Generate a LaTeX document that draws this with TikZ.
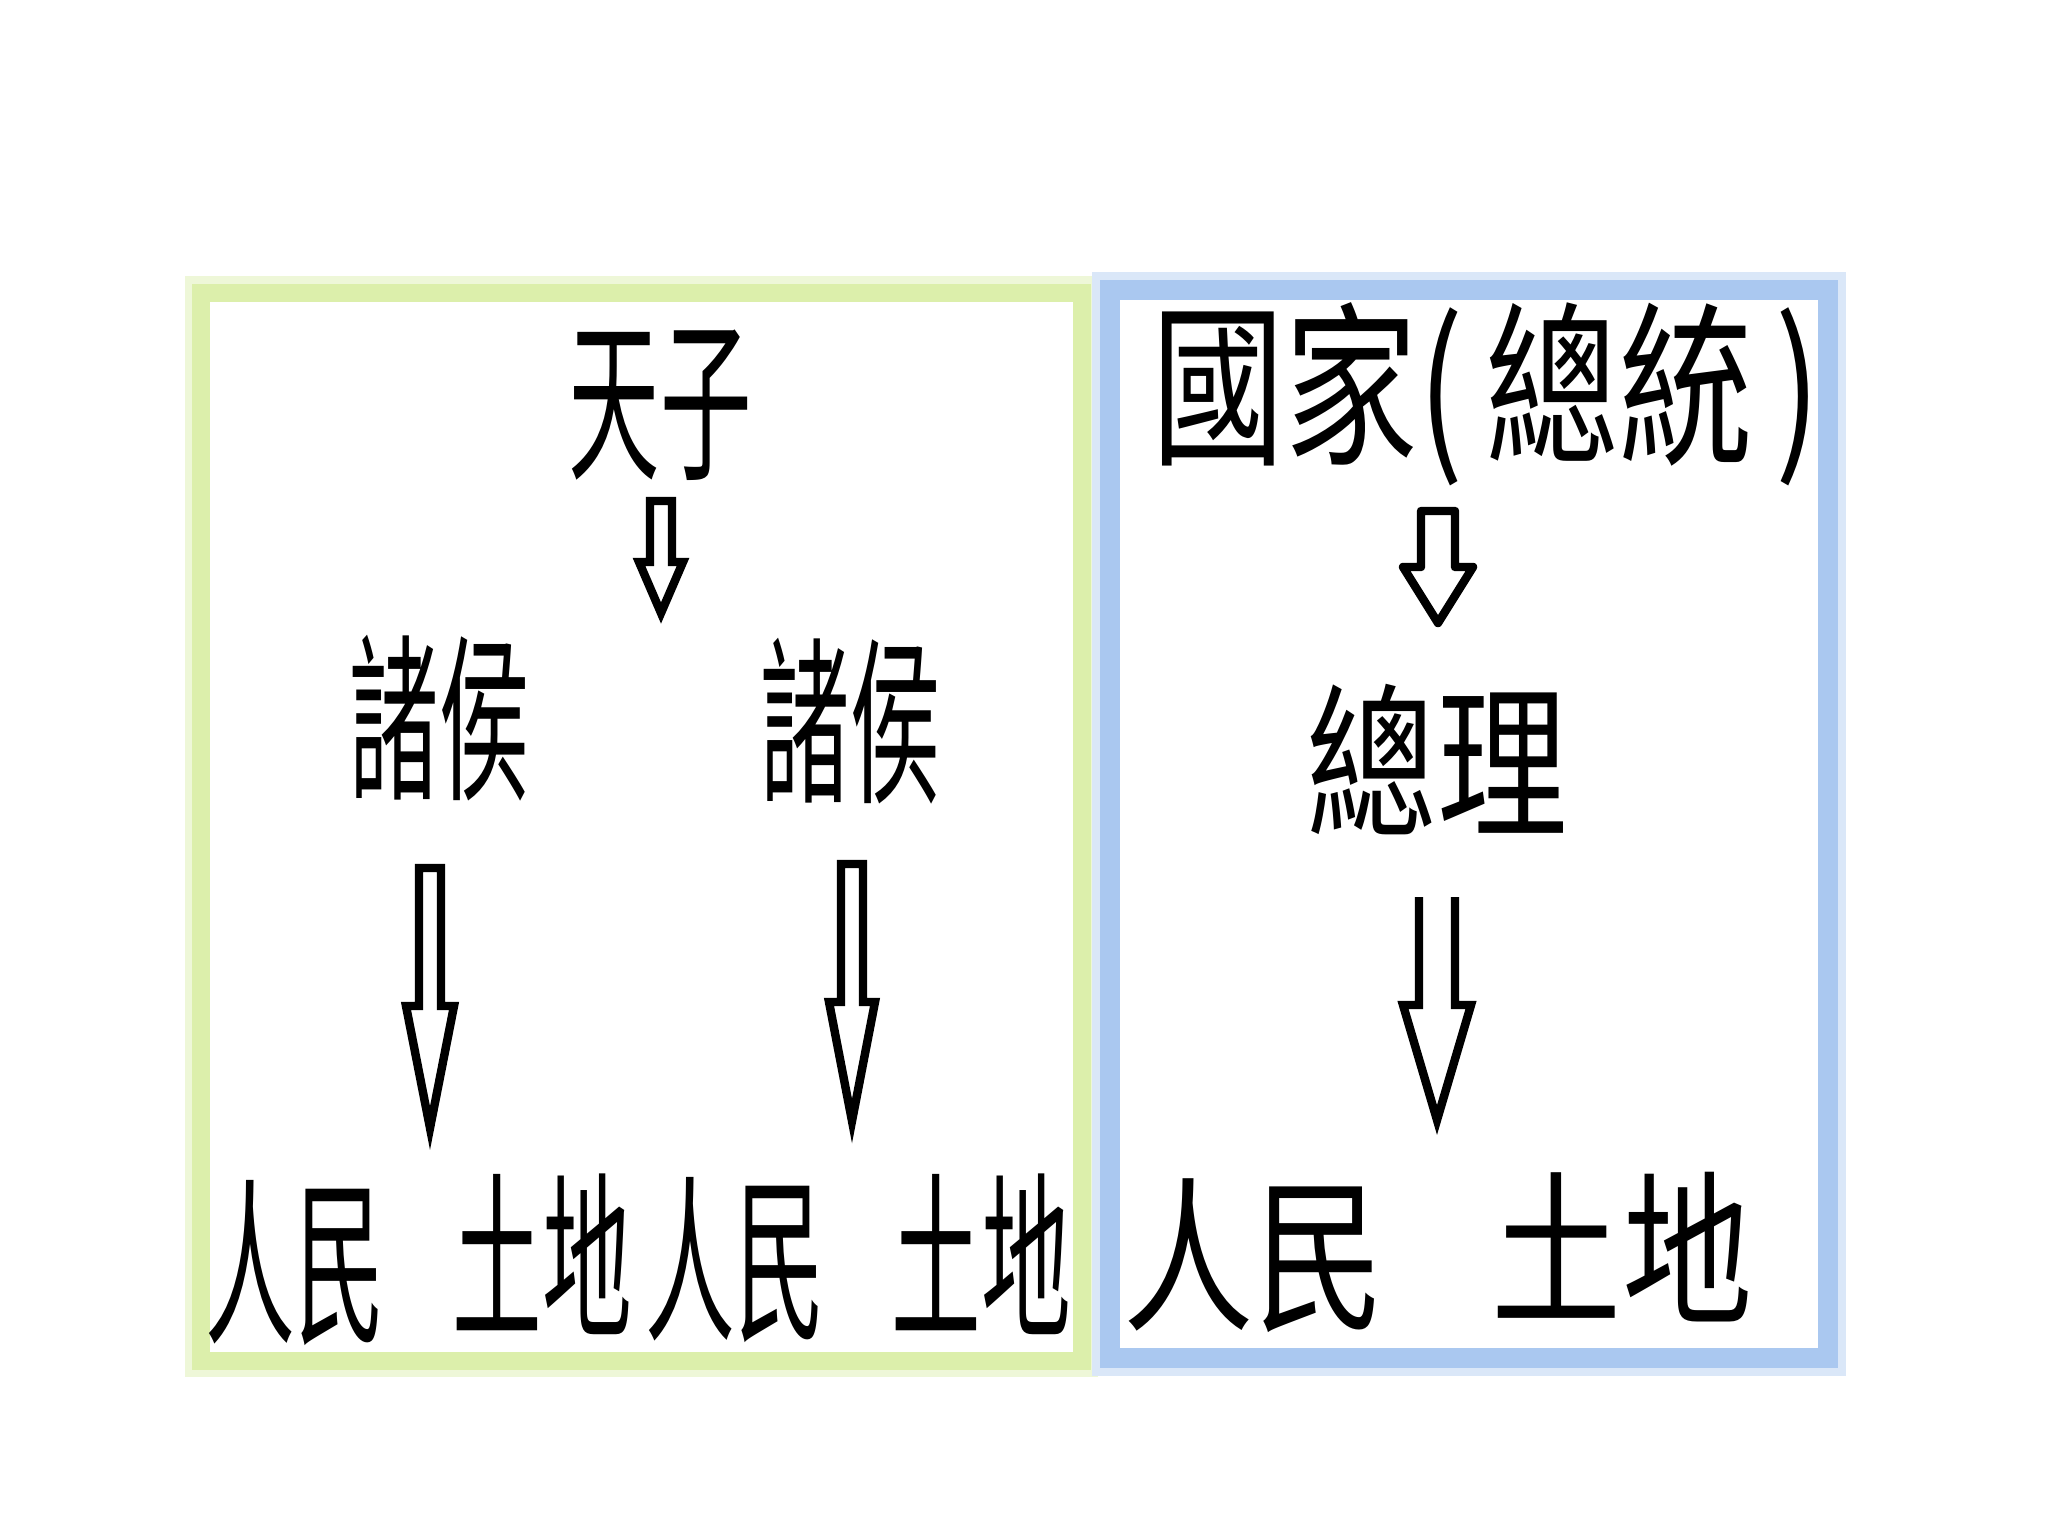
\documentclass[tikz,border=0pt]{standalone}
\usepackage{fontspec}
\usepackage{graphicx}
\newfontfamily\cjk{Noto Sans CJK TC}
\definecolor{gband}{HTML}{DCEFAB}
\definecolor{gglow}{HTML}{EEF7D8}
\definecolor{bband}{HTML}{AAC8F0}
\definecolor{bglow}{HTML}{DAE7F8}
\tikzset{
  lbl/.style={inner sep=0pt, font=\cjk},
  arrowline/.style={draw=black, line width=2.4pt, fill=white, line join=miter},
}
\newcommand{\blkarrow}[7][]{%
  \draw[arrowline,#1] ({#2-#6},#3) -- ({#2-#6},#4) -- ({#2-#7},#4) -- (#2,#5) -- ({#2+#7},#4) -- ({#2+#6},#4) -- ({#2+#6},#3) -- cycle;}
\newcommand{\blkarrowopen}[7][]{%
  \draw[arrowline,#1] ({#2-#6},#3) -- ({#2-#6},#4) -- ({#2-#7},#4) -- (#2,#5) -- ({#2+#7},#4) -- ({#2+#6},#4) -- ({#2+#6},#3);}
\newcommand{\gtxt}[2]{\fontsize{50pt}{60pt}\selectfont\scalebox{#1}[1]{#2}}
\begin{document}
\begin{tikzpicture}[x=0.01cm,y=-0.01cm]
\useasboundingbox[fill=white] (0,0) rectangle (2048,1536);
% green box
\draw[gglow, line width=8*0.2845pt] (189,280) rectangle (1094,1373);
\draw[gband, line width=18*0.2845pt] (201,293) rectangle (1082,1361);
% blue box
\draw[bglow, line width=8*0.2845pt] (1096,276) rectangle (1842,1372);
\draw[bband, line width=20*0.2845pt] (1110,290) rectangle (1828,1358);

% left (green) texts
\node[lbl] (tianzi) at (660,405) {\gtxt{0.52}{天子}};
\node[lbl] (zhuhouL) at (439,718) {\fontsize{51pt}{60pt}\selectfont\scalebox{0.5}[1]{諸侯}};
\node[lbl] (zhuhouR) at (850,721) {\fontsize{51pt}{60pt}\selectfont\scalebox{0.5}[1]{諸侯}};
\node[lbl] (renminL1) at (295,1263) {\fontsize{51pt}{60pt}\selectfont\scalebox{0.5}[1]{人民}};
\node[lbl] (tudiL1) at (542,1254) {\fontsize{51pt}{60pt}\selectfont\scalebox{0.5}[1]{土地}};
\node[lbl] (renminL2) at (735,1260) {\fontsize{51pt}{60pt}\selectfont\scalebox{0.5}[1]{人民}};
\node[lbl] (tudiL2) at (981,1254) {\fontsize{51pt}{60pt}\selectfont\scalebox{0.5}[1]{土地}};

% right (blue) texts
\node[lbl] (guojia) at (1486,394) {\fontsize{50pt}{60pt}\selectfont\scalebox{0.76}[1]{國家(\,總統\,)}};
\node[lbl] (zongli) at (1437,760) {\fontsize{47.5pt}{57pt}\selectfont\scalebox{0.78}[1]{總理}};
\node[lbl] (renminR) at (1254,1256) {\fontsize{47.5pt}{57pt}\selectfont\scalebox{0.78}[1]{人民}};
\node[lbl] (tudiR) at (1622,1247) {\fontsize{47.5pt}{57pt}\selectfont\scalebox{0.78}[1]{土地}};

% block arrows
\blkarrow{661}{501}{562}{613}{11}{22}
\blkarrow{430}{868}{1006}{1128}{11}{24}
\blkarrow{852}{864}{1002}{1121}{11}{23}
\blkarrow[line join=round]{1438}{511}{567}{623}{17}{35}
\blkarrowopen{1437}{897}{1005}{1120}{18}{34}
\end{tikzpicture}
\end{document}
